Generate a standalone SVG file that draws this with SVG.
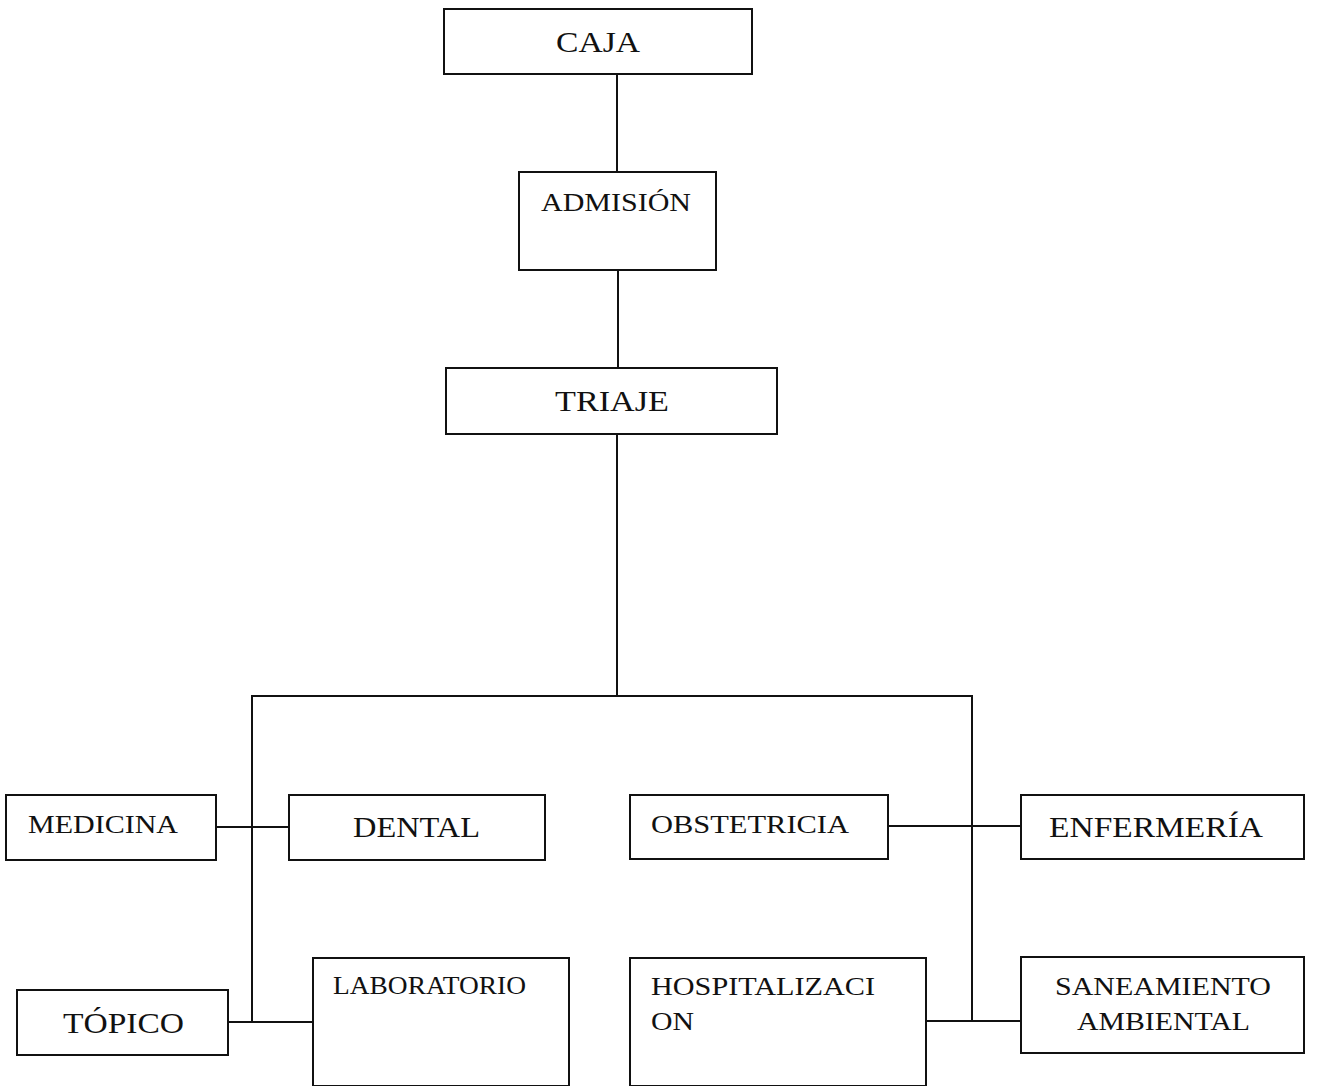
<svg xmlns="http://www.w3.org/2000/svg" width="1317" height="1086" viewBox="0 0 1317 1086">
<style>
.box{fill:#fff;stroke:#111;stroke-width:2}
.ln{fill:none;stroke:#111;stroke-width:2}
text{font-family:"Liberation Serif","DejaVu Serif",serif;fill:#111}
.b{font-size:30px}
.m{font-size:25px}
</style>
<rect width="1317" height="1086" fill="#fff"/>
<g id="connectors">
<line class="ln" x1="617" y1="74" x2="617" y2="172"/>
<line class="ln" x1="618" y1="270" x2="618" y2="368"/>
<line class="ln" x1="617" y1="434" x2="617" y2="696"/>
<line class="ln" x1="251" y1="696" x2="973" y2="696"/>
<line class="ln" x1="252" y1="695" x2="252" y2="1022"/>
<line class="ln" x1="972" y1="695" x2="972" y2="1021"/>
<line class="ln" x1="216" y1="827" x2="289" y2="827"/>
<line class="ln" x1="228" y1="1022" x2="313" y2="1022"/>
<line class="ln" x1="888" y1="826" x2="1021" y2="826"/>
<line class="ln" x1="926" y1="1021" x2="1021" y2="1021"/>
</g>
<g id="caja"><rect class="box" x="444" y="9" width="308" height="65"/><text class="b" x="556" y="52" textLength="84" lengthAdjust="spacingAndGlyphs">CAJA</text></g>
<g id="admision"><rect class="box" x="519" y="172" width="197" height="98"/><text class="m" x="541" y="211" textLength="150" lengthAdjust="spacingAndGlyphs">ADMISIÓN</text></g>
<g id="triaje"><rect class="box" x="446" y="368" width="331" height="66"/><text class="b" x="555" y="411" textLength="114" lengthAdjust="spacingAndGlyphs">TRIAJE</text></g>
<g id="medicina"><rect class="box" x="6" y="795" width="210" height="65"/><text class="m" x="28" y="833" textLength="150" lengthAdjust="spacingAndGlyphs">MEDICINA</text></g>
<g id="dental"><rect class="box" x="289" y="795" width="256" height="65"/><text class="b" x="353" y="837" textLength="127" lengthAdjust="spacingAndGlyphs">DENTAL</text></g>
<g id="obstetricia"><rect class="box" x="630" y="795" width="258" height="64"/><text class="m" x="651" y="833" textLength="198" lengthAdjust="spacingAndGlyphs">OBSTETRICIA</text></g>
<g id="enfermeria"><rect class="box" x="1021" y="795" width="283" height="64"/><text class="b" x="1049" y="837" textLength="214" lengthAdjust="spacingAndGlyphs">ENFERMERÍA</text></g>
<g id="topico"><rect class="box" x="17" y="990" width="211" height="65"/><text class="b" x="63" y="1033" textLength="121" lengthAdjust="spacingAndGlyphs">TÓPICO</text></g>
<g id="laboratorio"><rect class="box" x="313" y="958" width="256" height="128"/><text class="m" x="333" y="994" textLength="193" lengthAdjust="spacingAndGlyphs">LABORATORIO</text></g>
<g id="hospitalizacion"><rect class="box" x="630" y="958" width="296" height="128"/><text class="m" x="651" y="995" textLength="224" lengthAdjust="spacingAndGlyphs">HOSPITALIZACI</text><text class="m" x="651" y="1030" textLength="43" lengthAdjust="spacingAndGlyphs">ON</text></g>
<g id="saneamiento"><rect class="box" x="1021" y="957" width="283" height="96"/><text class="m" x="1055" y="995" textLength="216" lengthAdjust="spacingAndGlyphs">SANEAMIENTO</text><text class="m" x="1077" y="1030" textLength="173" lengthAdjust="spacingAndGlyphs">AMBIENTAL</text></g>
</svg>
